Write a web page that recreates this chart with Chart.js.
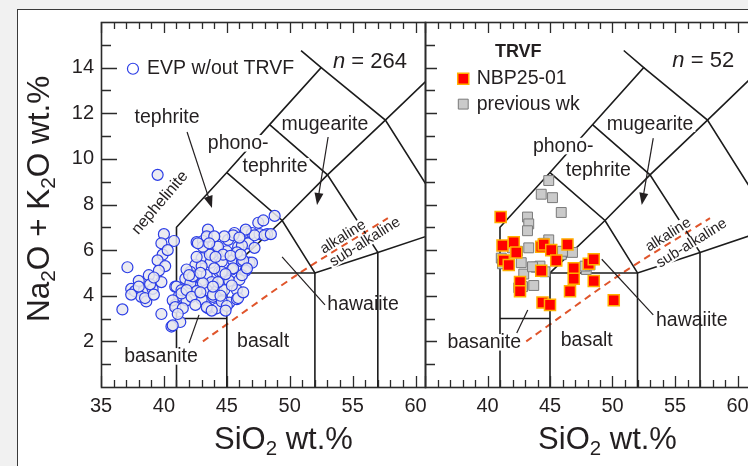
<!DOCTYPE html>
<html>
<head>
<meta charset="utf-8">
<script src="https://cdn.jsdelivr.net/npm/chart.js@4.4.0/dist/chart.umd.min.js"></script>
<style>
  html, body { margin: 0; padding: 0; background: #f1f1f1; overflow: hidden; }
  #frame { position: absolute; left: 17px; top: 9px; width: 760px; height: 480px; background: #fff; border: 1.5px solid #3a3a3a; }
  #left { position: absolute; left: 0; top: 0; }
  #right { position: absolute; left: 410px; top: 0; }
</style>
</head>
<body>
<div id="frame"></div>
<canvas id="left" width="428" height="466"></canvas>
<canvas id="right" width="340" height="466"></canvas>
<script>
const FONT = "'Liberation Sans', Arial, sans-serif";
const INK = "#231f20";

// SiO2 / total alkali
const evpPoints = [
  [39.5, 9.3],
  [40.0, 6.7], [40.8, 6.4], [39.8, 6.3], [39.9, 5.8], [39.5, 5.55], [40.1, 5.3], [37.1, 5.25],
  [38.8, 4.9], [39.8, 4.6], [38.0, 4.65], [37.4, 4.3], [37.7, 4.2], [38.4, 4.2], [39.1, 4.3],
  [38.2, 3.95], [38.6, 3.75], [37.4, 4.05], [36.7, 3.4], [39.8, 3.2], [40.9, 4.4], [41.2, 4.0],
  [40.9, 3.6], [41.3, 2.85], [40.6, 2.65], [38.9, 4.5], [38.5, 3.9], [38.0, 4.4], [39.6, 5.1],
  [39.2, 4.8], [40.3, 6.0], [39.2, 4.05],
  [43.5, 6.9], [43.4, 6.55], [42.6, 6.35], [43.1, 6.4], [44.2, 6.15], [45.1, 6.45], [45.6, 6.75],
  [46.6, 6.8], [47.5, 7.2], [48.8, 7.5], [47.0, 6.75], [47.6, 6.7], [48.2, 6.7], [46.7, 6.3],
  [45.9, 6.15], [45.0, 5.95], [43.8, 5.85], [43.0, 5.65], [42.5, 5.35], [43.7, 5.45], [44.6, 5.5],
  [45.5, 5.55], [46.2, 5.5], [46.8, 5.45], [43.0, 5.3], [44.4, 5.05], [45.4, 5.15], [43.4, 4.9],
  [42.1, 5.05], [41.7, 4.75], [42.3, 4.7], [43.0, 4.55], [43.8, 4.6], [44.7, 4.7], [45.2, 4.65],
  [46.0, 4.7], [41.0, 4.4], [41.4, 4.25], [41.9, 4.3], [42.6, 4.35], [43.4, 4.25], [44.2, 4.2],
  [44.8, 4.25], [45.8, 4.25], [43.0, 3.85], [43.9, 3.95], [44.7, 3.8], [45.2, 3.7], [45.8, 3.85],
  [40.7, 3.8], [40.9, 3.5], [40.7, 2.7], [41.8, 3.8], [43.5, 3.45], [44.2, 3.45],
  [43.4, 6.6], [44.3, 6.15], [45.5, 6.65], [47.2, 6.65], [47.0, 5.45], [46.3, 5.55], [43.65, 5.8],
  [44.6, 5.05], [45.5, 5.2], [44.3, 4.6], [43.1, 4.55], [42.1, 4.55], [41.4, 4.1], [42.6, 4.2],
  [43.9, 4.05], [44.6, 3.75], [45.9, 3.9], [43.4, 3.5], [41.8, 5.15], [42.3, 4.85], [41.8, 4.25],
  [42.6, 5.7], [43.1, 6.15], [42.7, 6.3],
  [48.0, 6.65], [48.5, 6.7], [47.9, 7.3], [46.5, 6.9], [46.2, 6.2], [45.8, 5.9], [47.2, 6.1],
  [46.0, 6.55], [44.8, 6.6], [44.0, 6.6], [43.6, 6.3], [44.7, 5.8], [45.3, 5.75], [46.5, 5.1],
  [46.2, 4.9], [44.0, 5.2], [44.9, 4.95], [42.9, 5.0], [43.9, 4.4], [45.4, 4.45], [46.3, 4.15],
  [44.5, 4.0], [42.2, 3.95], [42.9, 4.15], [45.0, 3.55], [42.5, 3.6], [41.5, 3.45], [41.1, 3.2],
  [43.8, 3.35], [44.9, 3.35], [46.1, 5.8], [46.6, 5.2], [44.1, 5.7], [42.0, 4.9]
];
const nbpPoints = [
  [41.05, 7.45], [41.2, 6.2], [42.1, 6.35], [42.3, 5.9], [41.3, 5.55], [41.7, 5.35], [42.6, 4.6],
  [42.6, 4.2], [44.3, 6.15], [44.5, 6.25], [45.1, 6.0], [45.5, 5.55], [46.4, 6.25], [44.3, 5.1],
  [46.9, 5.2], [46.9, 4.75], [46.6, 4.2], [48.1, 5.4], [48.5, 5.6], [48.5, 4.65], [44.4, 3.7],
  [45.0, 3.6], [50.1, 3.8]
];
const prevPoints = [
  [44.9, 9.05], [44.3, 8.45], [45.2, 8.3], [45.9, 7.65], [43.2, 7.45], [43.3, 7.15], [43.2, 6.85],
  [43.3, 6.1], [44.9, 6.45], [41.1, 5.65], [42.7, 5.45], [42.9, 4.95], [43.7, 4.45], [43.9, 5.25],
  [44.2, 5.3], [45.9, 5.8], [46.8, 5.9], [47.9, 5.15], [42.8, 4.4], [43.6, 5.27], [41.2, 5.4],
  [42.5, 4.35], [44.5, 6.3], [46.0, 5.95], [47.8, 5.3], [42.0, 6.1], [42.4, 5.95], [44.6, 5.05],
  [48.2, 5.35]
];
// TAS field boundaries (Le Bas et al. 1986)
const tasBoundaries = [
  [[41, 0], [41, 7], [45, 9.4], [48.4, 11.5], [52.5, 14], [50.9, 14.75]],
  [[41, 3], [45, 3]],
  [[45, 0], [45, 5], [52, 5], [57, 5.9], [63, 7]],
  [[52, 0], [52, 5]],
  [[57, 0], [57, 5.9]],
  [[45, 5], [49.4, 7.3], [53, 9.3], [57.6, 11.7], [61, 13.5], [63, 14.6]],
  [[45, 9.4], [49.4, 7.3], [52, 5]],
  [[48.4, 11.5], [53, 9.3], [57, 5.9]],
  [[52.5, 14], [57.6, 11.7], [63, 7]]
];
const alkalineDivide = [[43.1, 2.0], [50.8, 5.0], [57.8, 7.4]];
const xTickLabels = [35, 40, 45, 50, 55, 60];
const yTickLabels = [2, 4, 6, 8, 10, 12, 14];

const markerStyles = {
  evp: { pointStyle: "circle", pointRadius: 5.5, borderColor: "#2b3de6", borderWidth: 1.2, backgroundColor: "rgba(232,232,238,0.85)" },
  nbp: { pointStyle: "rect", pointRadius: 7.8, borderColor: "#ffb000", borderWidth: 1.5, backgroundColor: "#ff0000" },
  prev: { pointStyle: "rect", pointRadius: 7, borderColor: "#7a7a7a", borderWidth: 1, backgroundColor: "#cacaca" }
};

// ---------- annotations, one entry per canvas ----------
const panels = {
  left: {
    yMajor: 16, yMinor: 10, hide35: false, xTitleX: 49.5, yTitle: true,
    labels: [
      { t: ["tephrite"], x: 40.25, y: 11.8 },
      { t: ["phono-"], x: 45.9, y: 10.66, bg: true },
      { t: ["tephrite"], x: 48.83, y: 9.65, bg: true },
      { t: ["mugearite"], x: 52.8, y: 11.5, bg: true },
      { t: [["n", "i"], " = 264"], x: 56.38, y: 14.25, size: 22 },
      { t: ["nephelinite"], x: 39.69, y: 8.07, size: 16, rot: -49.5 },
      { t: ["alkaline"], x: 54.24, y: 6.58, size: 15, rot: -32, bg: true },
      { t: ["sub-alkaline"], x: 55.99, y: 6.36, size: 15, rot: -32, bg: true },
      { t: ["hawaiite"], x: 55.83, y: 3.6 },
      { t: ["basalt"], x: 47.88, y: 1.97 },
      { t: ["basanite"], x: 39.77, y: 1.32, bg: true }
    ],
    arrows: [
      [[41.84, 11.18], [43.82, 7.85]],
      [[53.05, 10.96], [52.17, 7.98]]
    ],
    leaders: [
      [[49.39, 5.7], [52.8, 3.6]],
      [[42.0, 1.93], [42.79, 3.16]]
    ],
    legend: [
      { style: "evp", x: 37.54, y: 13.95, tx: 38.66, t: "EVP w/out TRVF", hollow: true }
    ]
  },
  right: {
    yMajor: 12, yMinor: 10, hide35: true, xTitleX: 49.6, yTitle: false,
    labels: [
      { t: ["TRVF"], x: 42.46, y: 14.7, size: 18, bold: true },
      { t: [["n", "i"], " = 52"], x: 57.26, y: 14.3, size: 22 },
      { t: ["mugearite"], x: 53.0, y: 11.52, bg: true },
      { t: ["phono-"], x: 46.06, y: 10.54, bg: true },
      { t: ["tephrite"], x: 48.86, y: 9.47, bg: true },
      { t: ["alkaline"], x: 54.46, y: 6.67, size: 15, rot: -32, bg: true },
      { t: ["sub-alkaline"], x: 56.34, y: 6.3, size: 15, rot: -32, bg: true },
      { t: ["hawaiite"], x: 56.34, y: 2.91 },
      { t: ["basalt"], x: 47.94, y: 2.03 },
      { t: ["basanite"], x: 39.74, y: 1.94, bg: true }
    ],
    arrows: [
      [[53.26, 10.91], [52.34, 7.98]]
    ],
    leaders: [
      [[49.14, 5.6], [53.26, 3.16]],
      [[42.34, 2.37], [43.22, 3.38]]
    ],
    legend: [
      { style: "nbp", x: 38.06, y: 13.51, tx: 39.14, t: "NBP25-01" },
      { style: "prev", x: 38.06, y: 12.4, tx: 39.14, t: "previous wk" }
    ]
  }
};

function fontOf(part, size, bold) {
  const it = Array.isArray(part) && part[1] === "i" ? "italic " : "";
  const sub = Array.isArray(part) && part[1] === "sub";
  return it + (bold ? "bold " : "") + (sub ? size * 0.66 : size) + "px " + FONT;
}
function textOf(part) { return Array.isArray(part) ? part[0] : part; }

function richWidth(ctx, parts, size, bold) {
  let w = 0;
  parts.forEach(p => { ctx.font = fontOf(p, size, bold); w += ctx.measureText(textOf(p)).width; });
  return w;
}

function drawRich(ctx, parts, cx, cy, size, o = {}) {
  const w = richWidth(ctx, parts, size, o.bold);
  let x = o.align === "left" ? cx : cx - w / 2;
  if (o.bg) {
    ctx.fillStyle = "#fff";
    ctx.fillRect(x - 2, cy - size * 0.45, w + 4, size * 0.85);
  }
  ctx.fillStyle = INK;
  ctx.textBaseline = "middle";
  ctx.textAlign = "left";
  parts.forEach(p => {
    const sub = Array.isArray(p) && p[1] === "sub";
    ctx.font = fontOf(p, size, o.bold);
    ctx.fillText(textOf(p), x, sub ? cy + size * 0.3 : cy);
    x += ctx.measureText(textOf(p)).width;
  });
}

const tasNotes = {
  id: "tasNotes",
  beforeDatasetsDraw(chart) { chart.$notesDone = false; },
  beforeDatasetDraw(chart, args) {
    if (chart.$notesDone || !chart.data.datasets[args.index].isPoints) return;
    if (args.index !== chart.data.datasets.filter(d => d.isPoints).length - 1) return;
    chart.$notesDone = true;
    const p = panels[chart.canvas.id];
    const { ctx, scales: { x, y } } = chart;
    const px = v => x.getPixelForValue(v);
    const py = v => y.getPixelForValue(v);
    ctx.save();
    ctx.strokeStyle = INK;
    ctx.lineWidth = 1.2;
    p.leaders.forEach(([a, b]) => {
      ctx.beginPath(); ctx.moveTo(px(a[0]), py(a[1])); ctx.lineTo(px(b[0]), py(b[1])); ctx.stroke();
    });
    p.arrows.forEach(([a, b]) => {
      const x0 = px(a[0]), y0 = py(a[1]), x1 = px(b[0]), y1 = py(b[1]);
      const ang = Math.atan2(y1 - y0, x1 - x0);
      const c = Math.cos(ang), s = Math.sin(ang);
      ctx.beginPath(); ctx.moveTo(x0, y0);
      ctx.lineTo(x1 - 9 * c, y1 - 9 * s); ctx.stroke();
      ctx.fillStyle = INK;
      ctx.beginPath();
      ctx.moveTo(x1, y1);
      ctx.lineTo(x1 - 12 * c + 4.5 * s, y1 - 12 * s - 4.5 * c);
      ctx.lineTo(x1 - 12 * c - 4.5 * s, y1 - 12 * s + 4.5 * c);
      ctx.closePath(); ctx.fill();
    });
    p.labels.forEach(l => {
      ctx.save();
      ctx.translate(px(l.x), py(l.y));
      if (l.rot) ctx.rotate(l.rot * Math.PI / 180);
      drawRich(ctx, l.t, 0, 0, l.size || 19.5, { bg: l.bg, bold: l.bold });
      ctx.restore();
    });
    ctx.restore();
  },
  afterDatasetsDraw(chart) {
    const p = panels[chart.canvas.id];
    const { ctx, chartArea: a, scales: { x, y } } = chart;
    ctx.save();
    p.legend.forEach(l => {
      const st = markerStyles[l.style];
      const cx = x.getPixelForValue(l.x), cy = y.getPixelForValue(l.y);
      ctx.fillStyle = l.hollow ? "#fff" : st.backgroundColor;
      ctx.strokeStyle = st.borderColor;
      ctx.lineWidth = st.borderWidth;
      ctx.beginPath();
      if (st.pointStyle === "rect") {
        const s = st.pointRadius * Math.SQRT1_2;
        ctx.rect(cx - s, cy - s, 2 * s, 2 * s);
      } else {
        ctx.arc(cx, cy, st.pointRadius, 0, Math.PI * 2);
      }
      ctx.fill(); ctx.stroke();
      drawRich(ctx, [l.t], x.getPixelForValue(l.tx), cy, 19.5, { align: "left" });
    });

    // inward ticks and frame
    ctx.strokeStyle = "#2b2b2b";
    ctx.lineWidth = 1.3;
    ctx.beginPath();
    for (let v = Math.ceil(x.min); v <= x.max; v++) {
      const q = Math.round(x.getPixelForValue(v)) + 0.5;
      const len = v % 5 === 0 ? 11 : 7;
      ctx.moveTo(q, a.bottom); ctx.lineTo(q, a.bottom - len);
      ctx.moveTo(q, a.top); ctx.lineTo(q, a.top + len);
    }
    ctx.stroke();
    const left = Math.round(a.left);
    ctx.beginPath();
    for (let v = 1; v < 16; v++) {
      const q = Math.round(y.getPixelForValue(v)) + 0.5;
      const len = v % 2 === 0 ? p.yMajor : p.yMinor;
      ctx.moveTo(left, q); ctx.lineTo(left + len, q);
    }
    ctx.stroke();
    ctx.lineWidth = 1.6;
    ctx.strokeRect(left + 0.5, Math.round(a.top) + 0.5, a.right - a.left, a.bottom - a.top);

    // x tick labels
    ctx.fillStyle = INK;
    ctx.font = "20px " + FONT;
    ctx.textAlign = "center";
    ctx.textBaseline = "middle";
    xTickLabels.forEach(v => {
      if (p.hide35 && v === 35) return;
      ctx.fillText(String(v), x.getPixelForValue(v), a.bottom + 19);
    });

    // axis titles
    drawRich(ctx, ["SiO", ["2", "sub"], " wt.%"], x.getPixelForValue(p.xTitleX), 440, 31);
    if (p.yTitle) {
      ctx.save();
      ctx.translate(40, y.getPixelForValue(8.25));
      ctx.rotate(-Math.PI / 2);
      drawRich(ctx, ["Na", ["2", "sub"], "O + K", ["2", "sub"], "O wt.%"], 0, 0, 31.5);
      ctx.restore();
    }
    ctx.restore();
  }
};

function boundaryDatasets() {
  const sets = tasBoundaries.map(seg => ({
    data: seg, showLine: true, pointRadius: 0, borderColor: "#1c1c1c", borderWidth: 1.6, fill: false
  }));
  sets.push({
    data: alkalineDivide, showLine: true, pointRadius: 0, borderColor: "#e0552b",
    borderWidth: 2, borderDash: [7, 5], fill: false, tension: 0.3
  });
  return sets;
}

function makeChart(el, pointSets, o) {
  return new Chart(el, {
    type: "scatter",
    data: { datasets: pointSets.concat(boundaryDatasets()) },
    options: {
      responsive: false,
      animation: false,
      events: [],
      layout: { autoPadding: false, padding: { left: 0, right: o.padRight, top: 22, bottom: 0 } },
      scales: {
        x: {
          min: 35, max: o.xMax,
          grid: { display: false }, border: { display: false },
          ticks: { display: false },
          afterFit: s => { s.height = 79; }
        },
        y: {
          min: 0, max: 16,
          grid: { display: false, drawTicks: false }, border: { display: false },
          ticks: {
            display: o.yLabels, stepSize: 2, padding: 7, color: INK, font: { family: FONT, size: 20 },
            callback: v => (yTickLabels.includes(v) ? v : "")
          },
          afterFit: s => { s.width = o.yWidth; s.paddingTop = 0; s.paddingBottom = 0; }
        }
      },
      plugins: {
        legend: { display: false },
        tooltip: { enabled: false }
      }
    },
    plugins: [tasNotes]
  });
}

makeChart(document.getElementById("left"), [
  Object.assign({ label: "EVP w/out TRVF", data: evpPoints, isPoints: true }, markerStyles.evp)
], { yWidth: 101, padRight: 3, xMax: 60.75, yLabels: true });

makeChart(document.getElementById("right"), [
  Object.assign({ label: "NBP25-01", data: nbpPoints, isPoints: true }, markerStyles.nbp),
  Object.assign({ label: "previous wk", data: prevPoints, isPoints: true }, markerStyles.prev)
], { yWidth: 15, padRight: 0, xMax: 61, yLabels: false });
</script>
</body>
</html>
